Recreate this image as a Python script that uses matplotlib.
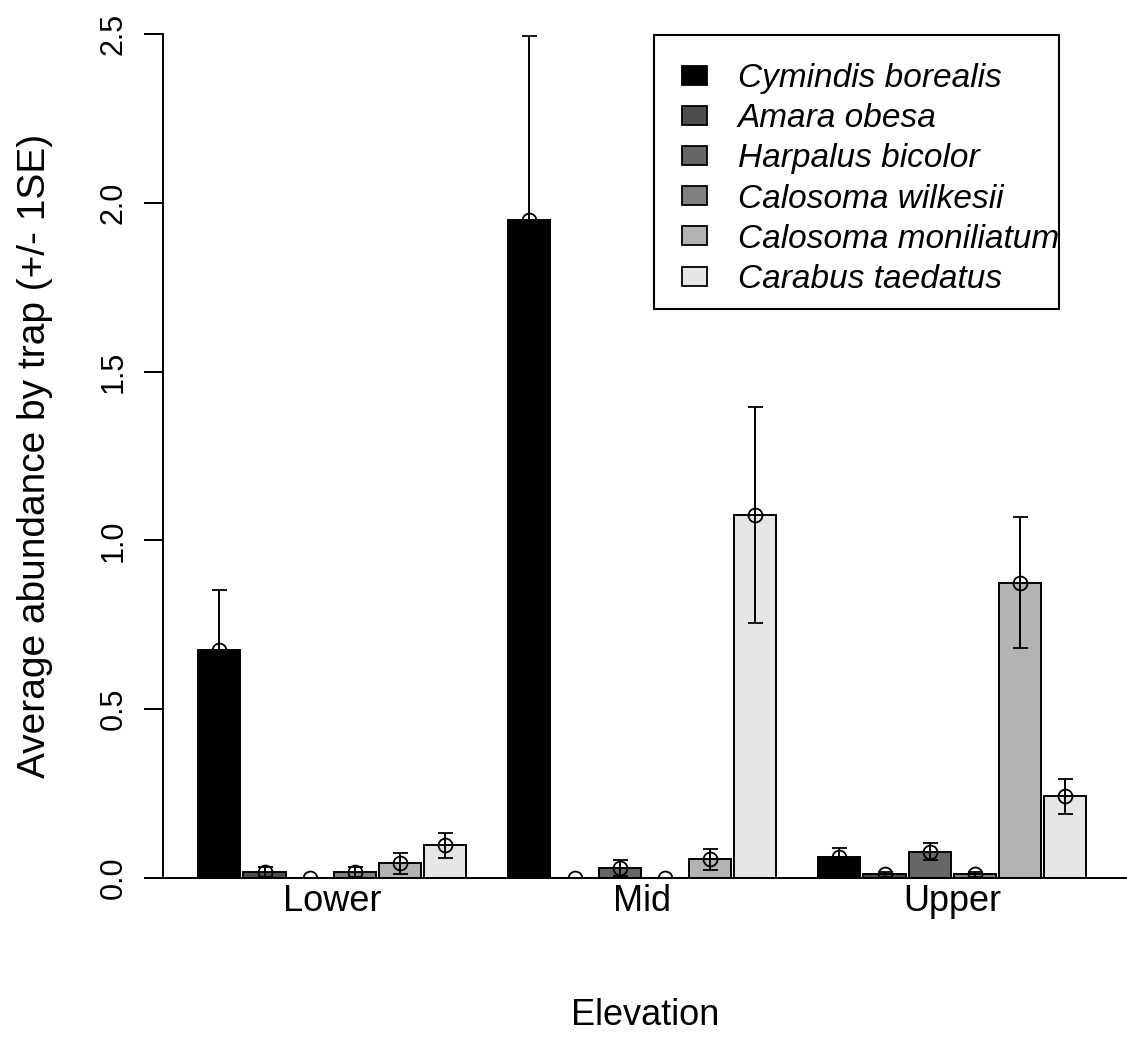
import matplotlib
matplotlib.use("Agg")
import matplotlib.pyplot as plt
from matplotlib.patches import Patch, Rectangle
import numpy as np

plt.rcParams['font.family'] = ['Liberation Sans', 'DejaVu Sans']

# ---- data ----
elevations = ["Lower", "Mid", "Upper"]
species = ["Cymindis borealis", "Amara obesa", "Harpalus bicolor",
           "Calosoma wilkesii", "Calosoma moniliatum", "Carabus taedatus"]
colors = ["#000000", "#4d4d4d", "#666666", "#808080", "#b3b3b3", "#e6e6e6"]

# mean abundance per species at Lower, Mid, Upper
cymindis_mean = [0.676, 1.950, 0.061]
amara_mean = [0.018, 0.000, 0.011]
harpalus_mean = [0.000, 0.030, 0.078]
wilkesii_mean = [0.018, 0.000, 0.011]
moniliatum_mean = [0.043, 0.055, 0.875]
carabus_mean = [0.097, 1.075, 0.242]

# standard errors
cymindis_se = [0.178, 0.545, 0.029]
amara_se = [0.014, 0.000, 0.008]
harpalus_se = [0.000, 0.024, 0.025]
wilkesii_se = [0.014, 0.000, 0.008]
moniliatum_se = [0.030, 0.031, 0.195]
carabus_se = [0.037, 0.320, 0.052]

means = [cymindis_mean, amara_mean, harpalus_mean, wilkesii_mean,
         moniliatum_mean, carabus_mean]
ses = [cymindis_se, amara_se, harpalus_se, wilkesii_se, moniliatum_se,
       carabus_se]

# ---- layout (R barplot style: width 1, space within 0.07, between 1) ----
W, H = 1127, 1046
fig = plt.figure(figsize=(W / 100, H / 100), dpi=100)
ax_l, ax_r, ax_t, ax_b = 163, 1127, 34, 878
ax = fig.add_axes([ax_l / W, 1 - ax_b / H, (ax_r - ax_l) / W, (ax_b - ax_t) / H])

bar_w = 1.0
s_in = 0.07
s_grp = 1.0
n_sp = len(species)
grp_pitch = n_sp * bar_w + (n_sp - 1) * s_in + s_grp
group_idx = np.arange(len(elevations))

for i in range(n_sp):
    left = s_grp + group_idx * grp_pitch + i * (bar_w + s_in)
    centers = left + bar_w / 2
    ax.bar(centers, means[i], width=bar_w, color=colors[i],
           edgecolor="black", linewidth=1.4, zorder=2)
    ax.errorbar(centers, means[i], yerr=ses[i], fmt="o", mfc="none",
                mec="black", mew=1.3, ms=10, ecolor="black",
                elinewidth=1.4, capsize=5.4, capthick=1.4, zorder=3)

grp_centers = s_grp + group_idx * grp_pitch + (n_sp * bar_w + (n_sp - 1) * s_in) / 2
px_per_unit = 310 / grp_pitch
first_left_px = 198.3
xmin = s_grp - (first_left_px - ax_l) / px_per_unit
xmax = s_grp + (ax_r - first_left_px) / px_per_unit
ax.set_xlim(xmin, xmax)
ax.set_ylim(0, 2.5)

ax.axhline(0, color="black", linewidth=1.4, zorder=4, clip_on=False)

for side in ["top", "right", "bottom"]:
    ax.spines[side].set_visible(False)
ax.spines["left"].set_linewidth(1.4)
ax.spines["left"].set_bounds(0, 2.5)

yt = [0.0, 0.5, 1.0, 1.5, 2.0, 2.5]
ax.set_yticks(yt)
ax.set_yticklabels([f"{v:.1f}" for v in yt], rotation=90, va="center",
                   fontsize=22)
ax.tick_params(axis="y", length=13.5, width=1.4, pad=11)

ax.set_xticks(grp_centers)
ax.set_xticklabels(elevations, fontsize=26)
ax.tick_params(axis="x", length=0, pad=4)

ax.set_xlabel("Elevation", fontsize=26)
ax.xaxis.set_label_coords(0.5, -(998 - ax_b) / (ax_b - ax_t))
ax.set_ylabel("Average abundance by trap (+/- 1SE)", fontsize=28)
ax.yaxis.set_label_coords(-(ax_l - 53) / (ax_r - ax_l), 0.5)

# ---- legend ----
handles = [Patch(facecolor=c, edgecolor="black", linewidth=1.3) for c in colors]
leg = ax.legend(handles, species, loc="upper left",
                bbox_to_anchor=(681.7 / W, 1 - 63 / H),
                bbox_transform=fig.transFigure, frameon=False,
                borderpad=0, borderaxespad=0, handlelength=0.75,
                handleheight=0.5, handletextpad=0.93, labelspacing=0.275,
                prop={"style": "italic", "size": 24})
fig.patches.append(Rectangle((654 / W, 1 - 309 / H), (1059 - 654) / W,
                             (309 - 35) / H, transform=fig.transFigure,
                             facecolor="none", edgecolor="black",
                             linewidth=1.5))

fig.savefig("out.png", dpi=100, facecolor="white")
